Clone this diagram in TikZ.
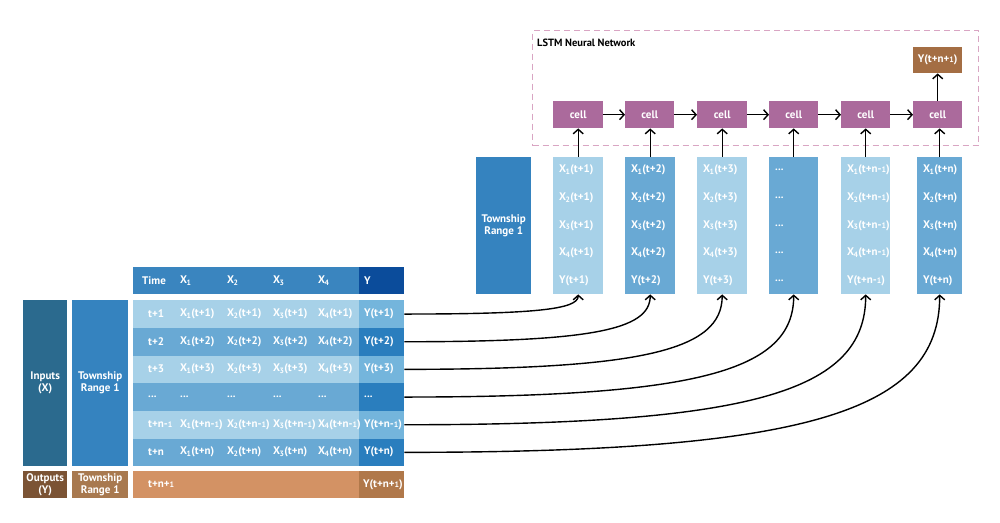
\documentclass[tikz,border=0pt]{standalone}
\usepackage{fontspec}
\setmainfont{PT Sans}
\usetikzlibrary{arrows.meta}

% palette
\definecolor{hdr}{HTML}{3A85BF}
\definecolor{hdrY}{HTML}{0B4C9B}
\definecolor{rowL}{HTML}{A7D1E8}
\definecolor{rowM}{HTML}{69A9D4}
\definecolor{yL}{HTML}{74B5DC}
\definecolor{yM}{HTML}{2A7EBE}
\definecolor{inpt}{HTML}{2B6A8E}
\definecolor{twn}{HTML}{3583BF}
\definecolor{outp}{HTML}{7B5334}
\definecolor{twnB}{HTML}{A8794F}
\definecolor{orng}{HTML}{D39264}
\definecolor{orngY}{HTML}{B0784A}
\definecolor{cellc}{HTML}{AB6A9C}
\definecolor{ytop}{HTML}{A46E44}
\definecolor{dashc}{HTML}{D9A5C3}

% small, low "1" as printed after n
\newcommand\osf[1]{\scalebox{0.72}{#1}}
% feature variable with index
\newcommand\Xs[1]{X\kern-0.6pt\textsubscript{#1}}

\begin{document}
\begin{tikzpicture}[x=1pt,y=-1pt,
  font=\bfseries\fontsize{11}{12}\selectfont,
  blockbox/.style={inner sep=0pt, anchor=north west, text=white, align=center},
  lbl/.style={inner sep=0pt, anchor=west, text=white},
  conn/.style={draw=black, line width=1.4pt, -{Straight Barb[length=4.5pt,width=10pt]}}]

\useasboundingbox (0,0) rectangle (1000,522);

% rectangular block: name, x, y, w, h, fill, text
\newcommand\blk[7]{\node[blockbox, fill=#6, minimum width=#4pt, minimum height=#5pt] (#1) at (#2,#3) {#7};}

% ---------- left: data table ----------
\blk{inputs}{23}{300}{44}{166}{inpt}{Inputs\\(X)}
\blk{twnL}{72}{300}{56}{166}{twn}{Township\\Range 1}
\blk{outputs}{23}{471}{44}{27}{outp}{Outputs\\(Y)}
\blk{twnO}{72}{471}{56}{27}{twnB}{Township\\Range 1}

% header
\blk{head}{133}{267}{226}{27}{hdr}{}
\blk{headY}{359}{267}{45}{27}{hdrY}{}
\node[lbl] (hTime) at (142,280.5) {Time};
\node[lbl] (hX1) at (180,280.5) {\Xs{1}};
\node[lbl] (hX2) at (227,280.5) {\Xs{2}};
\node[lbl] (hX3) at (273,280.5) {\Xs{3}};
\node[lbl] (hX4) at (318,280.5) {\Xs{4}};
\node[lbl] (hY) at (364,280.5) {Y};

% rows
\blk{r1}{133}{300}{226}{27.7}{rowL}{}
\blk{r2}{133}{327.7}{226}{27.7}{rowM}{}
\blk{r3}{133}{355.3}{226}{27.7}{rowL}{}
\blk{r4}{133}{383}{226}{27.7}{rowM}{}
\blk{r5}{133}{410.7}{226}{27.7}{rowL}{}
\blk{r6}{133}{438.3}{226}{27.7}{rowM}{}
\blk{y1}{359}{300}{45}{27.7}{yL}{}
\blk{y2}{359}{327.7}{45}{27.7}{yM}{}
\blk{y3}{359}{355.3}{45}{27.7}{yL}{}
\blk{y4}{359}{383}{45}{27.7}{yM}{}
\blk{y5}{359}{410.7}{45}{27.7}{yL}{}
\blk{y6}{359}{438.3}{45}{27.7}{yM}{}

% row contents: index, y centre, label, X1..X4, Y
\newcommand\tabrow[8]{%
  \node[lbl] (tl#1) at (148,#2) {#3};
  \node[lbl] (xa#1) at (180,#2) {#4};
  \node[lbl] (xb#1) at (227,#2) {#5};
  \node[lbl] (xc#1) at (273,#2) {#6};
  \node[lbl] (xd#1) at (318,#2) {#7};
  \node[lbl] (yv#1) at (364,#2) {#8};}

\tabrow{1}{313.85}{t+1}{\Xs{1}(t+1)}{\Xs{2}(t+1)}{\Xs{3}(t+1)}{\Xs{4}(t+1)}{Y(t+1)}
\tabrow{2}{341.55}{t+2}{\Xs{1}(t+2)}{\Xs{2}(t+2)}{\Xs{3}(t+2)}{\Xs{4}(t+2)}{Y(t+2)}
\tabrow{3}{369.15}{t+3}{\Xs{1}(t+3)}{\Xs{2}(t+3)}{\Xs{3}(t+3)}{\Xs{4}(t+3)}{Y(t+3)}
\tabrow{4}{396.85}{...}{...}{...}{...}{...}{...}
\tabrow{5}{424.55}{t+n-\osf{1}}{\Xs{1}(t+n-\osf{1})}{\Xs{2}(t+n-\osf{1})}{\Xs{3}(t+n-\osf{1})}{\Xs{4}(t+n-\osf{1})}{Y(t+n-\osf{1})}
\tabrow{6}{452.15}{t+n}{\Xs{1}(t+n)}{\Xs{2}(t+n)}{\Xs{3}(t+n)}{\Xs{4}(t+n)}{Y(t+n)}

% output row
\blk{orow}{133}{471}{226}{27}{orng}{}
\blk{orowY}{359}{471}{45}{27}{orngY}{}
\node[lbl] (olbl) at (148,484.5) {t+n+\osf{1}};
\node[lbl] (oval) at (363,484.5) {Y(t+n+\osf{1})};

% ---------- right: sequence windows ----------
\blk{twnR}{476}{157}{55}{137}{twn}{Township\\Range 1}

% column: name, x, width, fill, five lines
\newcommand\colbox[9]{%
  \blk{#1}{#2}{157}{#3}{137}{#4}{}
  \node[lbl] (#1a) at ([xshift=6pt]#2,170) {#5};
  \node[lbl] (#1b) at ([xshift=6pt]#2,198) {#6};
  \node[lbl] (#1c) at ([xshift=6pt]#2,225.5) {#7};
  \node[lbl] (#1d) at ([xshift=6pt]#2,253) {#8};
  \node[lbl] (#1e) at ([xshift=6pt]#2,280.5) {#9};}

\colbox{col1}{553}{50}{rowL}{\Xs{1}(t+1)}{\Xs{2}(t+1)}{\Xs{3}(t+1)}{\Xs{4}(t+1)}{Y(t+1)}
\colbox{col2}{625}{50}{rowM}{\Xs{1}(t+2)}{\Xs{2}(t+2)}{\Xs{3}(t+2)}{\Xs{4}(t+2)}{Y(t+2)}
\colbox{col3}{697}{50}{rowL}{\Xs{1}(t+3)}{\Xs{2}(t+3)}{\Xs{3}(t+3)}{\Xs{4}(t+3)}{Y(t+3)}
\colbox{col4}{769}{49}{rowM}{...}{...}{...}{...}{...}
\colbox{col5}{841}{49}{rowL}{\Xs{1}(t+n-\osf{1})}{\Xs{2}(t+n-\osf{1})}{\Xs{3}(t+n-\osf{1})}{\Xs{4}(t+n-\osf{1})}{Y(t+n-\osf{1})}
\colbox{col6}{917}{45}{rowM}{\Xs{1}(t+n)}{\Xs{2}(t+n)}{\Xs{3}(t+n)}{\Xs{4}(t+n)}{Y(t+n)}

% ---------- LSTM network ----------
\node[draw=dashc, line width=1.1pt, dash pattern=on 6pt off 4pt, inner sep=0pt,
      anchor=north west, minimum width=446pt, minimum height=115pt] (lstm) at (532,30) {};
\node[inner sep=0pt, anchor=west, text=black, font=\bfseries\fontsize{10.5}{11}\selectfont] (lstmlbl) at (537,43) {LSTM Neural Network};

\blk{cell1}{553}{101}{50}{27}{cellc}{cell}
\blk{cell2}{625}{101}{49}{27}{cellc}{cell}
\blk{cell3}{697}{101}{50}{27}{cellc}{cell}
\blk{cell4}{769}{101}{49}{27}{cellc}{cell}
\blk{cell5}{841}{101}{49}{27}{cellc}{cell}
\blk{cell6}{913}{101}{49}{27}{cellc}{cell}
\blk{yout}{913}{47}{49}{26}{ytop}{Y(t+n+\osf{1})}

% recurrent links and output
\foreach \a/\b in {1/2,2/3,3/4,4/5,5/6}
  \draw[conn] (cell\a.east) -- (cell\b.west);
\draw[conn] (cell6.north) -- (yout.south);

% window inputs into cells
\foreach \i in {1,...,6}
  \draw[conn] (col\i.north) -- (col\i.north |- cell\i.south);

% table rows feed the windows
\draw[conn] (y1.east) .. controls +(130,0) and +(0,15) .. (col1.south);
\draw[conn] (y2.east) .. controls +(185,0) and +(0,36) .. (col2.south);
\draw[conn] (y3.east) .. controls +(238,0) and +(0,56) .. (col3.south);
\draw[conn] (y4.east) .. controls +(292,0) and +(0,77) .. (col4.south);
\draw[conn] (y5.east) .. controls +(346,0) and +(0,98) .. (col5.south);
\draw[conn] (y6.east) .. controls +(401,0) and +(0,118) .. (col6.south);

\end{tikzpicture}
\end{document}
